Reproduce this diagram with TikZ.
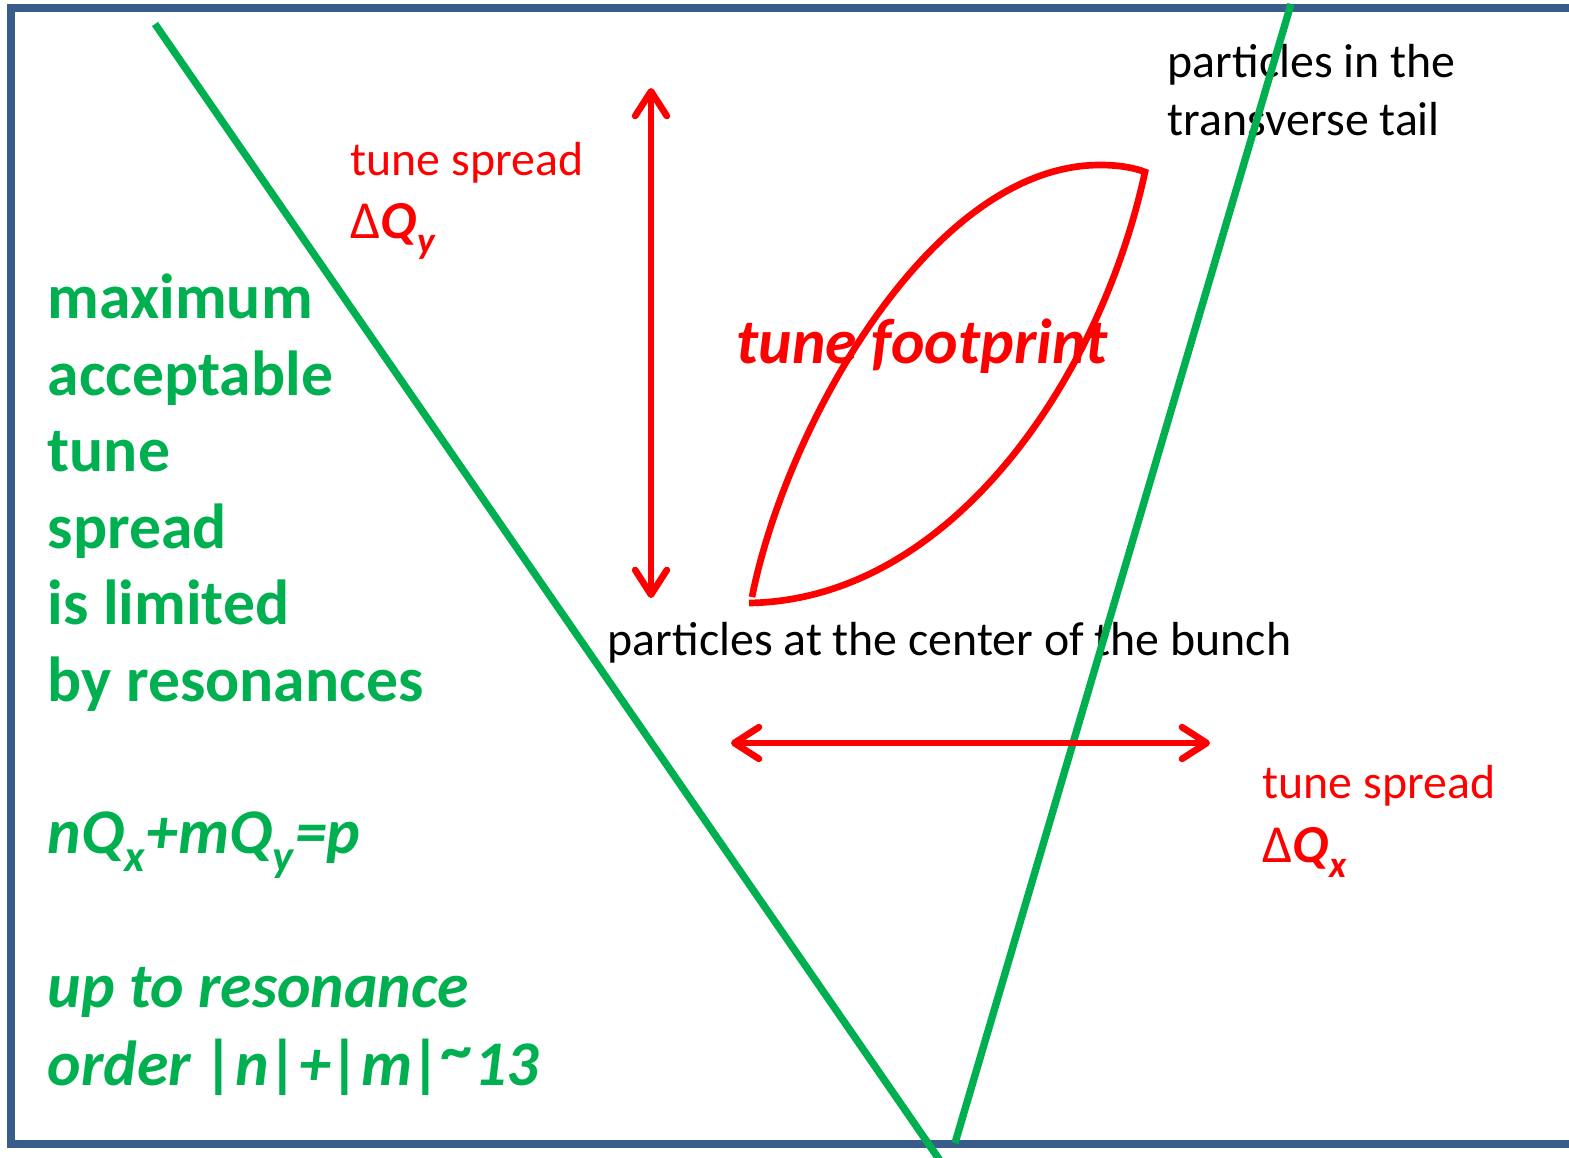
\documentclass[tikz,border=0pt]{standalone}
\usepackage{fontspec}
\setmainfont{Carlito}
\usetikzlibrary{arrows.meta}
\definecolor{frameblue}{RGB}{56,93,138}
\definecolor{resgreen}{RGB}{0,176,80}
\definecolor{tunered}{RGB}{255,0,0}
\tikzset{
  txt/.style={anchor=base west,inner sep=0pt,font=\fontsize{13.6}{16}\selectfont},
  redtxt/.style={txt,text=tunered},
  deltatxt/.style={redtxt,font=\fontsize{15.2}{18}\selectfont},
  bigtxt/.style={anchor=base west,inner sep=0pt,text=resgreen,
    font=\fontsize{18.1}{21.8}\selectfont\bfseries},
  bigit/.style={bigtxt,font=\fontsize{18.1}{21.8}\selectfont\bfseries\itshape},
  resline/.style={draw=resgreen,line width=2.1pt},
  footline/.style={draw=tunered,line width=1.9pt},
  spreadarrow/.style={draw=tunered,line width=1.9pt,
    {Straight Barb[length=7pt,width=9pt,round]}-{Straight Barb[length=7pt,width=9pt,round]}}
}
\newcommand{\bfit}[1]{\textbf{\textit{#1}}}
\newcommand{\lowsub}[1]{\raisebox{-0.14em}{\textsubscript{#1}}}

\begin{document}
\begin{tikzpicture}[x=0.01cm,y=-0.01cm]
  \useasboundingbox (0,0) rectangle (1569,1157);
  % frame, open to the right
  \draw[frameblue,line width=2.3pt] (1580,8) -- (11,8) -- (11,1144) -- (1580,1144);

  % labels
  \node[redtxt] (spreadY) at (350,175) {tune spread};
  \node[deltatxt] (dQy) at (350,238) {Δ\bfit{Q}\lowsub{\bfit{y}}};
  \node[txt] (tailA) at (1167,77) {particles in the};
  \node[txt] (tailB) at (1167,135) {transverse tail};
  \node[bigit,text=tunered] (foot) at (736,363) {tune footprint};
  \node[txt] (centre) at (607,655) {particles at the center of the bunch};
  \node[redtxt] (spreadX) at (1262,798) {tune spread};
  \node[deltatxt] (dQx) at (1262,862) {Δ\bfit{Q}\lowsub{\bfit{x}}};

  % left column
  \node[bigtxt] (lim1) at (47,318) {maximum};
  \node[bigtxt] (lim2) at (47,395) {acceptable};
  \node[bigtxt] (lim3) at (47,471) {tune};
  \node[bigtxt] (lim4) at (47,548) {spread};
  \node[bigtxt] (lim5) at (47,624) {is limited};
  \node[bigtxt] (lim6) at (47,701) {by resonances};
  \node[bigit] (reseq) at (47,853) {nQ\lowsub{x}+mQ\lowsub{y}=p};
  \node[bigit] (order1) at (47,1007) {up to resonance};
  \node[bigit] (order2) at (47,1085)
    {order |n|+|m|\raisebox{0.22em}{\textasciitilde}13};

  % resonance lines
  \coordinate (resAtop) at (155,24);
  \coordinate (resAbot) at (941,1162);
  \coordinate (resBtop) at (1291,4);
  \coordinate (resBbot) at (955,1143);
  \draw[resline] (resAtop) -- (resAbot);
  \draw[resline] (resBtop) -- (resBbot);

  % footprint
  \draw[footline] (752,597) .. controls (785,430) and (930,165) .. (1100,165)
    .. controls (1120,165) and (1135,168) .. (1145,172)
    .. controls (1100,380) and (950,600) .. (749,603);

  % spread arrows
  \coordinate (yTop) at (651,88);
  \coordinate (yBot) at (651,598);
  \coordinate (xLeft) at (731,743);
  \coordinate (xRight) at (1210,743);
  \draw[spreadarrow] (yTop) -- (yBot);
  \draw[spreadarrow] (xLeft) -- (xRight);
\end{tikzpicture}
\end{document}
